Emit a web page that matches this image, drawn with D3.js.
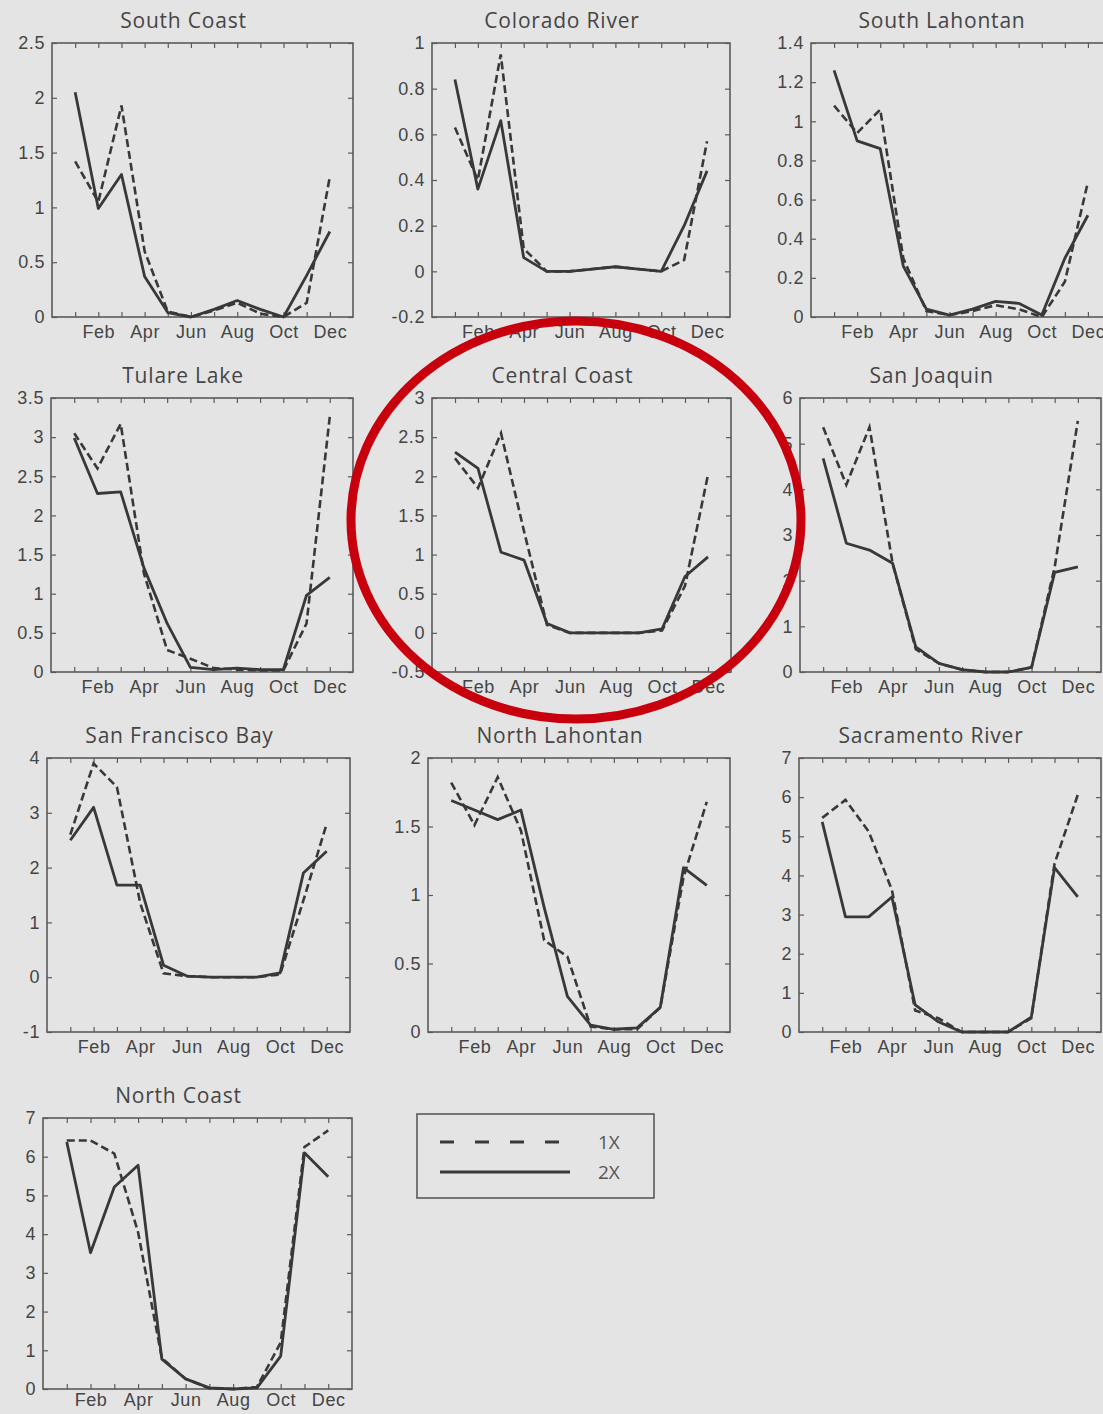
<!DOCTYPE html>
<html>
<head>
<meta charset="utf-8">
<script src="https://cdn.jsdelivr.net/npm/d3@7"></script>
<style>
  body { margin: 0; background: #e4e4e4; }
  svg { display: block; }
</style>
</head>
<body>
<svg id="chart" width="1103" height="1414"></svg>
<script>
// months on the x axis, only even ones get a label
const months = ['Jan', 'Feb', 'Mar', 'Apr', 'May', 'Jun', 'Jul', 'Aug', 'Sep', 'Oct', 'Nov', 'Dec'];
const seriesNames = ['1X', '2X'];

// monthly values, Jan..Dec
const southCoast1x = [1.42, 1.05, 1.93, 0.6, 0.05, 0.0, 0.06, 0.13, 0.03, 0.0, 0.13, 1.28];
const southCoast2x = [2.05, 0.99, 1.3, 0.37, 0.04, 0.0, 0.07, 0.15, 0.07, 0.0, 0.38, 0.78];

const colorado1x = [0.63, 0.4, 0.95, 0.1, 0.0, 0.0, 0.01, 0.02, 0.01, 0.0, 0.05, 0.57];
const colorado2x = [0.84, 0.36, 0.66, 0.06, 0.0, 0.0, 0.01, 0.02, 0.01, 0.0, 0.2, 0.44];

const southLahontan1x = [1.08, 0.94, 1.06, 0.3, 0.03, 0.01, 0.03, 0.06, 0.04, 0.0, 0.18, 0.69];
const southLahontan2x = [1.26, 0.9, 0.86, 0.26, 0.04, 0.01, 0.04, 0.08, 0.07, 0.01, 0.3, 0.52];

const tulare1x = [3.05, 2.6, 3.17, 1.26, 0.28, 0.17, 0.05, 0.03, 0.02, 0.02, 0.62, 3.26];
const tulare2x = [2.99, 2.28, 2.3, 1.33, 0.62, 0.06, 0.03, 0.05, 0.03, 0.03, 0.98, 1.21];

const centralCoast1x = [2.23, 1.85, 2.55, 1.3, 0.1, 0.0, 0.0, 0.0, 0.0, 0.03, 0.6, 2.02];
const centralCoast2x = [2.31, 2.1, 1.03, 0.93, 0.12, 0.0, 0.0, 0.0, 0.0, 0.05, 0.72, 0.97];

const sanJoaquin1x = [5.36, 4.1, 5.36, 2.38, 0.5, 0.19, 0.05, 0.0, 0.0, 0.1, 2.3, 5.5];
const sanJoaquin2x = [4.68, 2.82, 2.67, 2.38, 0.55, 0.19, 0.05, 0.0, 0.0, 0.1, 2.18, 2.3];

const sfBay1x = [2.6, 3.9, 3.47, 1.35, 0.07, 0.02, 0.0, 0.0, 0.0, 0.05, 1.4, 2.8];
const sfBay2x = [2.5, 3.1, 1.68, 1.68, 0.22, 0.02, 0.0, 0.0, 0.0, 0.08, 1.9, 2.3];

const northLahontan1x = [1.82, 1.51, 1.86, 1.47, 0.67, 0.55, 0.04, 0.02, 0.02, 0.18, 1.13, 1.68];
const northLahontan2x = [1.69, 1.62, 1.55, 1.62, 0.91, 0.26, 0.05, 0.02, 0.03, 0.18, 1.2, 1.07];

const sacramento1x = [5.47, 5.93, 5.12, 3.63, 0.55, 0.35, 0.0, 0.0, 0.0, 0.35, 4.3, 6.06];
const sacramento2x = [5.37, 2.94, 2.94, 3.45, 0.69, 0.26, 0.0, 0.0, 0.0, 0.38, 4.2, 3.45];

const northCoast1x = [6.42, 6.42, 6.08, 4.05, 0.8, 0.26, 0.02, 0.0, 0.05, 1.2, 6.25, 6.68];
const northCoast2x = [6.38, 3.52, 5.22, 5.78, 0.77, 0.26, 0.03, 0.0, 0.03, 0.85, 6.1, 5.48];

// y tick values of every panel
const southCoastTicks = [0, 0.5, 1, 1.5, 2, 2.5];
const coloradoTicks = [-0.2, 0, 0.2, 0.4, 0.6, 0.8, 1];
const southLahontanTicks = [0, 0.2, 0.4, 0.6, 0.8, 1, 1.2, 1.4];
const tulareTicks = [0, 0.5, 1, 1.5, 2, 2.5, 3, 3.5];
const centralCoastTicks = [-0.5, 0, 0.5, 1, 1.5, 2, 2.5, 3];
const sanJoaquinTicks = [0, 1, 2, 3, 4, 5, 6];
const sfBayTicks = [-1, 0, 1, 2, 3, 4];
const northLahontanTicks = [0, 0.5, 1, 1.5, 2];
const sacramentoTicks = [0, 1, 2, 3, 4, 5, 6, 7];
const northCoastTicks = [0, 1, 2, 3, 4, 5, 6, 7];

const panels = [
  { title: 'South Coast', s1: southCoast1x, s2: southCoast2x, ticks: southCoastTicks, left: 52, top: 43, width: 301 },
  { title: 'Colorado River', s1: colorado1x, s2: colorado2x, ticks: coloradoTicks, left: 432, top: 43, width: 298 },
  { title: 'South Lahontan', s1: southLahontan1x, s2: southLahontan2x, ticks: southLahontanTicks, left: 811, top: 43, width: 300 },
  { title: 'Tulare Lake', s1: tulare1x, s2: tulare2x, ticks: tulareTicks, left: 51, top: 398, width: 302 },
  { title: 'Central Coast', s1: centralCoast1x, s2: centralCoast2x, ticks: centralCoastTicks, left: 432, top: 398, width: 299 },
  { title: 'San Joaquin', s1: sanJoaquin1x, s2: sanJoaquin2x, ticks: sanJoaquinTicks, left: 800, top: 398, width: 301 },
  { title: 'San Francisco Bay', s1: sfBay1x, s2: sfBay2x, ticks: sfBayTicks, left: 47, top: 758, width: 303 },
  { title: 'North Lahontan', s1: northLahontan1x, s2: northLahontan2x, ticks: northLahontanTicks, left: 428, top: 758, width: 302 },
  { title: 'Sacramento River', s1: sacramento1x, s2: sacramento2x, ticks: sacramentoTicks, left: 799, top: 758, width: 302 },
  { title: 'North Coast', s1: northCoast1x, s2: northCoast2x, ticks: northCoastTicks, left: 43, top: 1118, width: 309, height: 271, pad: 4 }
];

const panelHeight = 274;
const ink = '#383838';
const frame = '#5a5a5a';
const textColor = '#454545';
const dash = '8,4';

const svg = d3.select('#chart');

function fmt(v) {
  return String(+v.toFixed(2));
}

function styleAxis(sel) {
  sel.select('.domain').remove();
  sel.selectAll('.tick line').attr('stroke', frame).attr('stroke-width', 1.2);
  sel.selectAll('.tick text')
    .attr('fill', textColor)
    .style('font-family', '"Liberation Sans", Arial, sans-serif')
    .style('font-size', '18px')
    .style('letter-spacing', '0.6px');
}

function drawPanel(p) {
  const w = p.width, h = p.height || panelHeight;
  const g = svg.append('g').attr('transform', `translate(${p.left},${p.top})`);

  const x = d3.scaleLinear().domain([0, 13]).range([0, w]);
  const y = d3.scaleLinear().domain(d3.extent(p.ticks)).range([h, 0]);
  const monthIdx = d3.range(1, 13);

  g.append('g')
    .attr('transform', `translate(0,${h})`)
    .call(d3.axisBottom(x).tickValues(monthIdx).tickSize(-5).tickPadding(p.pad || 8)
      .tickFormat(d => d % 2 === 0 ? months[d - 1] : ''))
    .call(styleAxis);

  g.append('g')
    .call(d3.axisTop(x).tickValues(monthIdx).tickSize(-5).tickFormat(''))
    .call(styleAxis);

  g.append('g')
    .call(d3.axisLeft(y).tickValues(p.ticks).tickSize(-5).tickPadding(7).tickFormat(fmt))
    .call(styleAxis);

  g.append('g')
    .attr('transform', `translate(${w},0)`)
    .call(d3.axisRight(y).tickValues(p.ticks).tickSize(-5).tickFormat(''))
    .call(styleAxis);

  g.append('rect')
    .attr('width', w)
    .attr('height', h)
    .attr('fill', 'none')
    .attr('stroke', frame)
    .attr('stroke-width', 1.6);

  const line = d3.line()
    .x((d, i) => x(i + 1))
    .y(d => y(d));

  g.append('path')
    .datum(p.s1)
    .attr('d', line)
    .attr('fill', 'none')
    .attr('stroke', ink)
    .attr('stroke-width', 2.6)
    .attr('stroke-dasharray', dash);

  g.append('path')
    .datum(p.s2)
    .attr('d', line)
    .attr('fill', 'none')
    .attr('stroke', ink)
    .attr('stroke-width', 2.8)
    .attr('stroke-linejoin', 'round');

  // titles sit a bit left of the box centre in the original
  g.append('text')
    .attr('x', w / 2 - 19)
    .attr('y', -15)
    .attr('text-anchor', 'middle')
    .attr('fill', textColor)
    .style('font-family', '"Open Sans", sans-serif')
    .style('font-size', '21px')
    .style('letter-spacing', '0.8px')
    .text(p.title);
}

panels.forEach(drawPanel);

// legend
const legend = svg.append('g').attr('transform', 'translate(417,1114)');
legend.append('rect')
  .attr('width', 237).attr('height', 84)
  .attr('fill', 'none').attr('stroke', frame).attr('stroke-width', 1.6);

seriesNames.forEach((name, i) => {
  const ly = 28 + i * 30;
  legend.append('line')
    .attr('x1', 23).attr('x2', i === 0 ? 150 : 153)
    .attr('y1', ly).attr('y2', ly)
    .attr('stroke', ink)
    .attr('stroke-width', 3)
    .attr('stroke-dasharray', i === 0 ? '14,21' : null);
  legend.append('text')
    .attr('x', 181).attr('y', ly + 7)
    .attr('fill', '#555')
    .style('font-family', '"Open Sans", sans-serif')
    .style('font-size', '19px')
    .text(name);
});

// red highlight round the Central Coast panel
svg.append('ellipse')
  .attr('cx', 576).attr('cy', 520)
  .attr('rx', 225).attr('ry', 199)
  .attr('fill', 'none')
  .attr('stroke', '#c8000e')
  .attr('stroke-width', 9);
</script>
</body>
</html>
